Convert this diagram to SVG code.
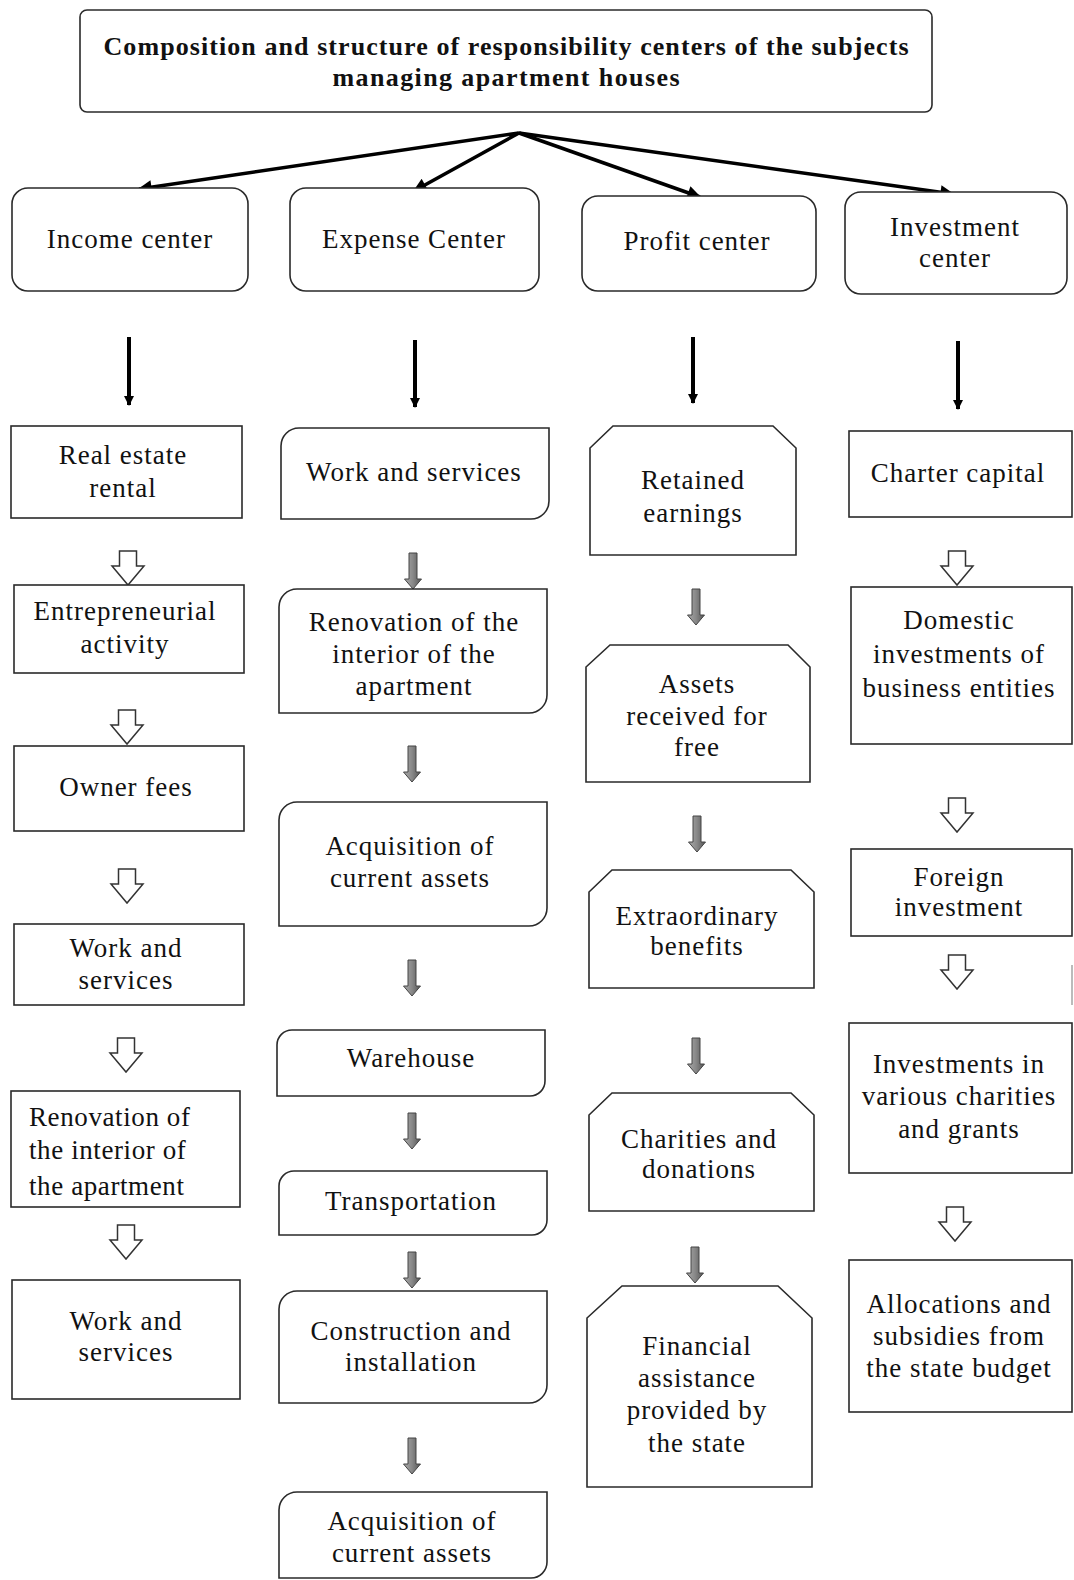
<svg xmlns="http://www.w3.org/2000/svg" xmlns:xlink="http://www.w3.org/1999/xlink" width="1074" height="1580" viewBox="0 0 1074 1580">
<style>
  .box { fill: #fff; stroke: #2a2a2a; stroke-width: 1.6; }
  .t { font-family: "Liberation Serif", "Times New Roman", serif; font-size: 27px; letter-spacing: 1px; fill: #111; text-anchor: middle; }
  .tl { text-anchor: start; letter-spacing: 0.6px; }
  .title { font-family: "Liberation Serif", "Times New Roman", serif; font-size: 26px; font-weight: bold; fill: #111; text-anchor: middle; }
  .main { stroke: #000; stroke-width: 3.5; fill: none; }
  .vert { stroke: #000; stroke-width: 4; fill: none; }
  .hollow { fill: #fff; stroke: #333; stroke-width: 1.5; }
  .gray { fill: url(#g); stroke: #444; stroke-width: 1; }
</style>
<defs>
  <linearGradient id="g" x1="0" y1="0" x2="1" y2="0">
    <stop offset="0" stop-color="#aaa"/>
    <stop offset="0.5" stop-color="#888"/>
    <stop offset="1" stop-color="#555"/>
  </linearGradient>
  <marker id="ah" viewBox="0 0 10 10" refX="9" refY="5" markerWidth="18" markerHeight="14" markerUnits="userSpaceOnUse" orient="auto">
    <path d="M0,0 L10,5 L0,10 Z" fill="#000"/>
  </marker>
  <marker id="ahs" viewBox="0 0 10 10" refX="9" refY="5" markerWidth="10" markerHeight="11" markerUnits="userSpaceOnUse" orient="auto">
    <path d="M0,0 L10,5 L0,10 Z" fill="#000"/>
  </marker>
  <path id="hollow" d="M-8.5,0 H8.5 V15 H16 L0,34 L-16,15 H-8.5 Z"/>
  <path id="grayarr" d="M-4,0 H4 V26 H8.5 L0,36 L-8.5,26 H-4 Z"/>
</defs>
<rect width="1074" height="1580" fill="#fff"/>

<g id="connectors">
  <line class="main" x1="519" y1="133" x2="139" y2="189" marker-end="url(#ah)"/>
  <line class="main" x1="519" y1="133" x2="414" y2="191" marker-end="url(#ah)"/>
  <line class="main" x1="519" y1="133" x2="700" y2="197" marker-end="url(#ah)"/>
  <line class="main" x1="519" y1="133" x2="953" y2="194" marker-end="url(#ah)"/>

  <line class="vert" x1="129" y1="337" x2="129" y2="405" marker-end="url(#ahs)"/>
  <line class="vert" x1="415" y1="340" x2="415" y2="407" marker-end="url(#ahs)"/>
  <line class="vert" x1="693" y1="337" x2="693" y2="403" marker-end="url(#ahs)"/>
  <line class="vert" x1="958" y1="341" x2="958" y2="409" marker-end="url(#ahs)"/>

  <use href="#hollow" class="hollow" x="128" y="551"/>
  <use href="#hollow" class="hollow" x="127" y="710"/>
  <use href="#hollow" class="hollow" x="127" y="869"/>
  <use href="#hollow" class="hollow" x="126" y="1038"/>
  <use href="#hollow" class="hollow" x="126" y="1225"/>

  <use href="#hollow" class="hollow" x="957" y="551"/>
  <use href="#hollow" class="hollow" x="957" y="798"/>
  <use href="#hollow" class="hollow" x="957" y="955"/>
  <use href="#hollow" class="hollow" x="955" y="1207"/>

  <use href="#grayarr" class="gray" x="413" y="553"/>
  <use href="#grayarr" class="gray" x="412" y="746"/>
  <use href="#grayarr" class="gray" x="412" y="960"/>
  <use href="#grayarr" class="gray" x="412" y="1113"/>
  <use href="#grayarr" class="gray" x="412" y="1252"/>
  <use href="#grayarr" class="gray" x="412" y="1438"/>

  <use href="#grayarr" class="gray" x="696" y="589"/>
  <use href="#grayarr" class="gray" x="697" y="816"/>
  <use href="#grayarr" class="gray" x="696" y="1038"/>
  <use href="#grayarr" class="gray" x="695" y="1247"/>
</g>

<g id="title">
  <rect class="box" x="80" y="10" width="852" height="102" rx="7"/>
  <text class="title" x="506" y="55" textLength="805" lengthAdjust="spacing">Composition and structure of responsibility centers of the subjects</text>
  <text class="title" x="506" y="86" textLength="347" lengthAdjust="spacing">managing apartment houses</text>
</g>

<g id="income-center">
  <rect class="box" x="12" y="188" width="236" height="103" rx="16"/>
  <text class="t" x="130" y="248">Income center</text>
</g>
<g id="expense-center">
  <rect class="box" x="290" y="188" width="249" height="103" rx="16"/>
  <text class="t" x="414" y="248">Expense Center</text>
</g>
<g id="profit-center">
  <rect class="box" x="582" y="196" width="234" height="95" rx="16"/>
  <text class="t" x="697" y="250">Profit center</text>
</g>
<g id="investment-center">
  <rect class="box" x="845" y="192" width="222" height="102" rx="16"/>
  <text class="t" x="955" y="236">Investment</text>
  <text class="t" x="955" y="267">center</text>
</g>

<!-- Income column -->
<g id="real-estate-rental">
  <rect class="box" x="11" y="426" width="231" height="92"/>
  <text class="t" x="123" y="464">Real estate</text>
  <text class="t" x="123" y="497">rental</text>
</g>
<g id="entrepreneurial-activity">
  <rect class="box" x="14" y="585" width="230" height="88"/>
  <text class="t" x="125" y="620">Entrepreneurial</text>
  <text class="t" x="125" y="653">activity</text>
</g>
<g id="owner-fees">
  <rect class="box" x="14" y="746" width="230" height="85"/>
  <text class="t" x="126" y="796">Owner fees</text>
</g>
<g id="income-work-services">
  <rect class="box" x="14" y="924" width="230" height="81"/>
  <text class="t" x="126" y="957">Work and</text>
  <text class="t" x="126" y="989">services</text>
</g>
<g id="income-renovation">
  <rect class="box" x="11" y="1091" width="229" height="116"/>
  <text class="t tl" x="29" y="1126">Renovation of</text>
  <text class="t tl" x="29" y="1159">the interior of</text>
  <text class="t tl" x="29" y="1195">the apartment</text>
</g>
<g id="income-work-services-2">
  <rect class="box" x="12" y="1280" width="228" height="119"/>
  <text class="t" x="126" y="1330">Work and</text>
  <text class="t" x="126" y="1361">services</text>
</g>

<!-- Expense column -->
<g id="expense-work-services">
  <path class="box" d="M281,446 A18,18 0 0 1 299,428 H549 V501 A18,18 0 0 1 531,519 H281 Z"/>
  <text class="t" x="414" y="481">Work and services</text>
</g>
<g id="expense-renovation">
  <path class="box" d="M279,607 A18,18 0 0 1 297,589 H547 V695 A18,18 0 0 1 529,713 H279 Z"/>
  <text class="t" x="414" y="631">Renovation of the</text>
  <text class="t" x="414" y="663">interior of the</text>
  <text class="t" x="414" y="695">apartment</text>
</g>
<g id="expense-acquisition">
  <path class="box" d="M279,820 A18,18 0 0 1 297,802 H547 V908 A18,18 0 0 1 529,926 H279 Z"/>
  <text class="t" x="410" y="855">Acquisition of</text>
  <text class="t" x="410" y="887">current assets</text>
</g>
<g id="warehouse">
  <path class="box" d="M277,1045 A15,15 0 0 1 292,1030 H545 V1081 A15,15 0 0 1 530,1096 H277 Z"/>
  <text class="t" x="411" y="1067">Warehouse</text>
</g>
<g id="transportation">
  <path class="box" d="M279,1186 A15,15 0 0 1 294,1171 H547 V1220 A15,15 0 0 1 532,1235 H279 Z"/>
  <text class="t" x="411" y="1210">Transportation</text>
</g>
<g id="construction-installation">
  <path class="box" d="M279,1309 A18,18 0 0 1 297,1291 H547 V1385 A18,18 0 0 1 529,1403 H279 Z"/>
  <text class="t" x="411" y="1340">Construction and</text>
  <text class="t" x="411" y="1371">installation</text>
</g>
<g id="expense-acquisition-2">
  <path class="box" d="M279,1510 A18,18 0 0 1 297,1492 H547 V1562 A16,16 0 0 1 531,1578 H279 Z"/>
  <text class="t" x="412" y="1530">Acquisition of</text>
  <text class="t" x="412" y="1562">current assets</text>
</g>

<!-- Profit column -->
<g id="retained-earnings">
  <path class="box" d="M613,426 H773 L796,448 V555 H590 V448 Z"/>
  <text class="t" x="693" y="489">Retained</text>
  <text class="t" x="693" y="522">earnings</text>
</g>
<g id="assets-free">
  <path class="box" d="M610,645 H788 L810,667 V782 H586 V667 Z"/>
  <text class="t" x="697" y="693">Assets</text>
  <text class="t" x="697" y="725">received for</text>
  <text class="t" x="697" y="756">free</text>
</g>
<g id="extraordinary-benefits">
  <path class="box" d="M612,870 H791 L814,892 V988 H589 V892 Z"/>
  <text class="t" x="697" y="925">Extraordinary</text>
  <text class="t" x="697" y="955">benefits</text>
</g>
<g id="charities-donations">
  <path class="box" d="M612,1093 H791 L814,1115 V1211 H589 V1115 Z"/>
  <text class="t" x="699" y="1148">Charities and</text>
  <text class="t" x="699" y="1178">donations</text>
</g>
<g id="financial-assistance">
  <path class="box" d="M622,1286 H778 L812,1318 V1487 H587 V1318 Z"/>
  <text class="t" x="697" y="1355">Financial</text>
  <text class="t" x="697" y="1387">assistance</text>
  <text class="t" x="697" y="1419">provided by</text>
  <text class="t" x="697" y="1452">the state</text>
</g>

<!-- Investment column -->
<g id="charter-capital">
  <rect class="box" x="849" y="431" width="223" height="86"/>
  <text class="t" x="958" y="482">Charter capital</text>
</g>
<g id="domestic-investments">
  <rect class="box" x="851" y="587" width="221" height="157"/>
  <text class="t" x="959" y="629">Domestic</text>
  <text class="t" x="959" y="663">investments of</text>
  <text class="t" x="959" y="697">business entities</text>
</g>
<g id="foreign-investment">
  <rect class="box" x="851" y="849" width="221" height="87"/>
  <text class="t" x="959" y="886">Foreign</text>
  <text class="t" x="959" y="916">investment</text>
</g>
<g id="charities-grants">
  <rect class="box" x="849" y="1023" width="223" height="150"/>
  <text class="t" x="959" y="1073">Investments in</text>
  <text class="t" x="959" y="1105">various charities</text>
  <text class="t" x="959" y="1138">and grants</text>
</g>
<g id="allocations-subsidies">
  <rect class="box" x="849" y="1260" width="223" height="152"/>
  <text class="t" x="959" y="1313">Allocations and</text>
  <text class="t" x="959" y="1345">subsidies from</text>
  <text class="t" x="959" y="1377">the state budget</text>
</g>

<line x1="1072" y1="965" x2="1072" y2="1005" stroke="#bbb" stroke-width="2"/>
</svg>
